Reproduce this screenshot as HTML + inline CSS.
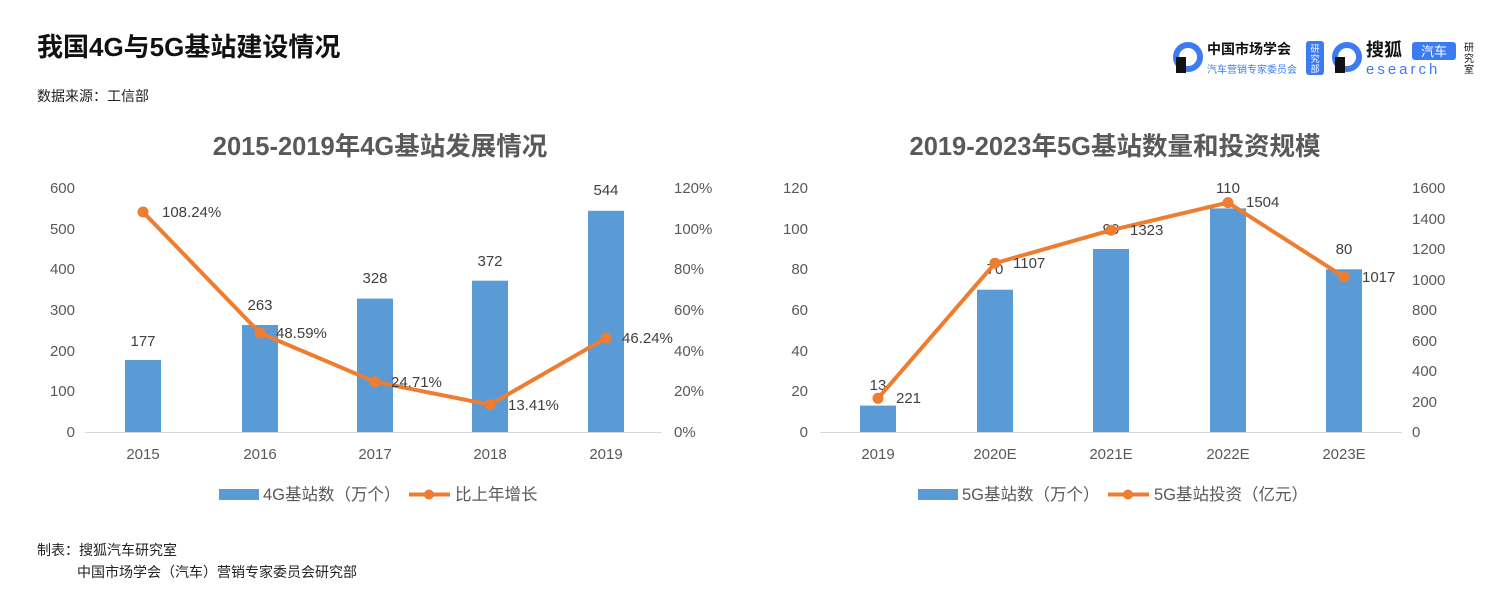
<!DOCTYPE html>
<html><head><meta charset="utf-8"><style>
body{margin:0;background:#fff;}
svg{display:block;font-family:"Liberation Sans","Noto Sans CJK SC",sans-serif;}
</style></head><body>
<svg width="1506" height="609" viewBox="0 0 1506 609">
<text x="37" y="56" font-size="26" font-weight="bold" fill="#111">我国4G与5G基站建设情况</text>
<text x="37" y="101" font-size="14" fill="#222">数据来源：工信部</text>
<text x="37" y="555" font-size="14" fill="#222">制表：搜狐汽车研究室</text>
<text x="77" y="577" font-size="14" fill="#222">中国市场学会（汽车）营销专家委员会研究部</text>
<g>
<circle cx="1188" cy="57" r="12" fill="none" stroke="#3d7cf0" stroke-width="6"/>
<rect x="1176" y="57" width="10" height="16" fill="#111"/>
<text x="1207" y="54" font-size="14" font-weight="bold" fill="#111">中国市场学会</text>
<text x="1207" y="73" font-size="10" fill="#3d7cf0">汽车营销专家委员会</text>
<rect x="1306" y="41" width="18" height="34" rx="3" fill="#3d7cf0"/>
<text x="1315" y="52" font-size="9" fill="#fff" text-anchor="middle">研</text>
<text x="1315" y="62" font-size="9" fill="#fff" text-anchor="middle">究</text>
<text x="1315" y="72" font-size="9" fill="#fff" text-anchor="middle">部</text>
<circle cx="1347" cy="57" r="12" fill="none" stroke="#3d7cf0" stroke-width="6"/>
<rect x="1335" y="57" width="10" height="16" fill="#111"/>
<text x="1366" y="56" font-size="18" font-weight="bold" fill="#111">搜狐</text>
<rect x="1412" y="42" width="44" height="18" rx="3" fill="#3d7cf0"/>
<text x="1434" y="56" font-size="13" fill="#fff" text-anchor="middle">汽车</text>
<text x="1366" y="74" font-size="15" fill="#3d7cf0" letter-spacing="3">esearch</text>
<text x="1469" y="51" font-size="10" fill="#111" text-anchor="middle">研</text>
<text x="1469" y="62" font-size="10" fill="#111" text-anchor="middle">究</text>
<text x="1469" y="73" font-size="10" fill="#111" text-anchor="middle">室</text>
</g>

<!-- LEFT CHART -->
<text x="380" y="155" font-size="25.5" font-weight="bold" fill="#595959" text-anchor="middle">2015-2019年4G基站发展情况</text>
<g font-size="15" fill="#595959">
<g text-anchor="end">
<text x="75" y="193">600</text><text x="75" y="234">500</text><text x="75" y="274">400</text><text x="75" y="315">300</text><text x="75" y="356">200</text><text x="75" y="396">100</text><text x="75" y="437">0</text>
</g>
<text x="674" y="193">120%</text><text x="674" y="234">100%</text><text x="674" y="274">80%</text><text x="674" y="315">60%</text><text x="674" y="356">40%</text><text x="674" y="396">20%</text><text x="674" y="437">0%</text>
<g text-anchor="middle">
<text x="143" y="459">2015</text><text x="260" y="459">2016</text><text x="375" y="459">2017</text><text x="490" y="459">2018</text><text x="606" y="459">2019</text>
</g>
</g>
<line x1="85" y1="432.5" x2="662" y2="432.5" stroke="#d9d9d9"/>
<g fill="#5b9bd5">
<rect x="125" y="360" width="36" height="72"/>
<rect x="242" y="325" width="36" height="107"/>
<rect x="357" y="298.6" width="36" height="133.4"/>
<rect x="472" y="280.7" width="36" height="151.3"/>
<rect x="588" y="210.8" width="36" height="221.2"/>
</g>
<g font-size="15" fill="#404040" text-anchor="middle">
<text x="143" y="346">177</text><text x="260" y="310">263</text><text x="375" y="283">328</text><text x="490" y="266">372</text><text x="606" y="195">544</text>
</g>
<polyline points="143,212 260,333 375,381.8 490,404.7 606,338" fill="none" stroke="#ed7d31" stroke-width="4" stroke-linejoin="round"/>
<g fill="#ed7d31">
<circle cx="143" cy="212" r="5.5"/><circle cx="260" cy="333" r="5.5"/><circle cx="375" cy="381.8" r="5.5"/><circle cx="490" cy="404.7" r="5.5"/><circle cx="606" cy="338" r="5.5"/>
</g>
<g font-size="15" fill="#404040">
<text x="162" y="217">108.24%</text><text x="276" y="338">48.59%</text><text x="391" y="387">24.71%</text><text x="508" y="410">13.41%</text><text x="622" y="343">46.24%</text>
</g>
<rect x="219" y="489" width="40" height="11" fill="#5b9bd5"/>
<text x="263" y="500" font-size="16.5" fill="#595959">4G基站数（万个）</text>
<line x1="409" y1="494.5" x2="450" y2="494.5" stroke="#ed7d31" stroke-width="4"/>
<circle cx="429" cy="494.5" r="5" fill="#ed7d31"/>
<text x="455" y="500" font-size="16.5" fill="#595959">比上年增长</text>

<!-- RIGHT CHART -->
<text x="1115" y="155" font-size="25.5" font-weight="bold" fill="#595959" text-anchor="middle">2019-2023年5G基站数量和投资规模</text>
<g font-size="15" fill="#595959">
<g text-anchor="end">
<text x="808" y="193">120</text><text x="808" y="234">100</text><text x="808" y="274">80</text><text x="808" y="315">60</text><text x="808" y="356">40</text><text x="808" y="396">20</text><text x="808" y="437">0</text>
</g>
<text x="1412" y="193">1600</text><text x="1412" y="224">1400</text><text x="1412" y="254">1200</text><text x="1412" y="285">1000</text><text x="1412" y="315">800</text><text x="1412" y="346">600</text><text x="1412" y="376">400</text><text x="1412" y="407">200</text><text x="1412" y="437">0</text>
<g text-anchor="middle">
<text x="878" y="459">2019</text><text x="995" y="459">2020E</text><text x="1111" y="459">2021E</text><text x="1228" y="459">2022E</text><text x="1344" y="459">2023E</text>
</g>
</g>
<line x1="820" y1="432.5" x2="1402" y2="432.5" stroke="#d9d9d9"/>
<g fill="#5b9bd5">
<rect x="860" y="405.6" width="36" height="26.4"/>
<rect x="977" y="289.7" width="36" height="142.3"/>
<rect x="1093" y="249" width="36" height="183"/>
<rect x="1210" y="208.4" width="36" height="223.6"/>
<rect x="1326" y="269.3" width="36" height="162.7"/>
</g>
<g font-size="15" fill="#404040" text-anchor="middle">
<text x="878" y="390">13</text><text x="995" y="274">70</text><text x="1111" y="234">90</text><text x="1228" y="193">110</text><text x="1344" y="254">80</text>
</g>
<polyline points="878,398.3 995,263.2 1111,230.2 1228,202.6 1344,276.9" fill="none" stroke="#ed7d31" stroke-width="4" stroke-linejoin="round"/>
<g fill="#ed7d31">
<circle cx="878" cy="398.3" r="5.5"/><circle cx="995" cy="263.2" r="5.5"/><circle cx="1111" cy="230.2" r="5.5"/><circle cx="1228" cy="202.6" r="5.5"/><circle cx="1344" cy="276.9" r="5.5"/>
</g>
<g font-size="15" fill="#404040">
<text x="896" y="403">221</text><text x="1013" y="268">1107</text><text x="1130" y="235">1323</text><text x="1246" y="207">1504</text><text x="1362" y="282">1017</text>
</g>
<rect x="918" y="489" width="40" height="11" fill="#5b9bd5"/>
<text x="962" y="500" font-size="16.5" fill="#595959">5G基站数（万个）</text>
<line x1="1108" y1="494.5" x2="1149" y2="494.5" stroke="#ed7d31" stroke-width="4"/>
<circle cx="1128" cy="494.5" r="5" fill="#ed7d31"/>
<text x="1154" y="500" font-size="16.5" fill="#595959">5G基站投资（亿元）</text>
</svg>
</body></html>
